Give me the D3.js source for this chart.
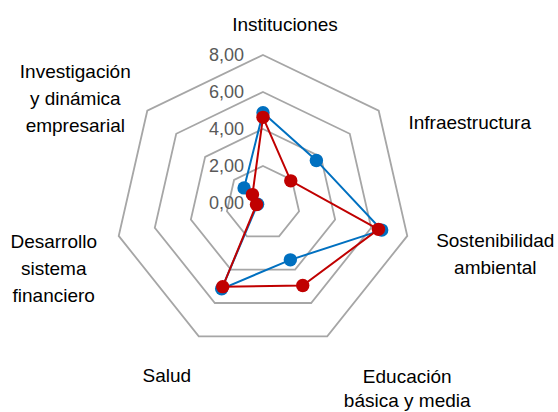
<!DOCTYPE html>
<html>
<head>
<meta charset="utf-8">
<script src="https://cdn.jsdelivr.net/npm/d3@7"></script>
<style>
  body { margin: 0; background: #fff; }
  svg { display: block; font-family: "Liberation Sans", Arial, sans-serif; }
</style>
</head>
<body>
<svg width="558" height="412"></svg>
<script>
// categories, in clockwise order from the top
const categories = [
  ["Instituciones"],
  ["Infraestructura"],
  ["Sostenibilidad", "ambiental"],
  ["Educación", "básica y media"],
  ["Salud"],
  ["Desarrollo", "sistema", "financiero"],
  ["Investigación", "y dinámica", "empresarial"]
];
const blueValues = [4.88, 3.69, 6.58, 3.41, 5.15, 0.30, 1.31];
const redValues = [4.63, 1.92, 6.40, 4.95, 5.02, 0.36, 0.73];
const ticks = [0, 2, 4, 6, 8];

const svg = d3.select("svg");
const cx = 263, cy = 203;

const r = d3.scaleLinear().domain([0, 8]).range([0, 148]);
const angle = d3.scaleLinear().domain([0, categories.length]).range([0, 2 * Math.PI]);

// where each label sits relative to its outer vertex (Excel places them a bit oddly)
const labelShift = [[22, -24], [91, 18], [88, 11], [80, 47], [-32, 46], [-65, 12], [-72, -33]];
const lineGap = [27, 27, 27, 24, 27, 27, 27];

const g = svg.append("g").attr("transform", `translate(${cx},${cy})`);

const idx = d3.range(categories.length);
const px = (i, v) => r(v) * Math.sin(angle(i));
const py = (i, v) => -r(v) * Math.cos(angle(i));

// grid rings
g.selectAll(".ring").data(ticks.filter(t => t > 0)).enter().append("polygon")
  .attr("class", "ring")
  .attr("points", t => idx.map(i => [px(i, t), py(i, t)].join(",")).join(" "))
  .attr("fill", "none")
  .attr("stroke", "#a6a6a6")
  .attr("stroke-width", 1.8);

// tick labels
g.selectAll(".tick").data(ticks).enter().append("text")
  .attr("class", "tick")
  .attr("x", -19)
  .attr("y", t => -r(t) + 1)
  .attr("text-anchor", "end")
  .attr("dominant-baseline", "middle")
  .attr("fill", "#595959")
  .style("font-size", "18px")
  .text(t => d3.format(".2f")(t).replace(".", ","));

// category labels
const labels = g.selectAll(".cat").data(idx).enter().append("text")
  .attr("class", "cat")
  .attr("text-anchor", "middle")
  .attr("fill", "#000")
  .style("font-size", "19px");
labels.each(function (i) {
  const x = px(i, 8) + labelShift[i][0];
  const y = py(i, 8) + labelShift[i][1];
  d3.select(this).selectAll("tspan").data(categories[i]).enter().append("tspan")
    .attr("x", x)
    .attr("y", (d, k) => y + k * lineGap[i])
    .text(d => d);
});

const line = d3.lineRadial()
  .angle((d, i) => angle(i))
  .radius(d => r(d))
  .curve(d3.curveLinearClosed);

const series = [
  { values: blueValues, color: "#0070c0" },
  { values: redValues, color: "#c00000" }
];

series.forEach(s => {
  g.append("path")
    .attr("d", line(s.values))
    .attr("fill", "none")
    .attr("stroke", s.color)
    .attr("stroke-width", 2);
  g.selectAll(null).data(s.values).enter().append("circle")
    .attr("cx", (d, i) => px(i, d))
    .attr("cy", (d, i) => py(i, d))
    .attr("r", 6.7)
    .attr("fill", s.color);
});
</script>
</body>
</html>
